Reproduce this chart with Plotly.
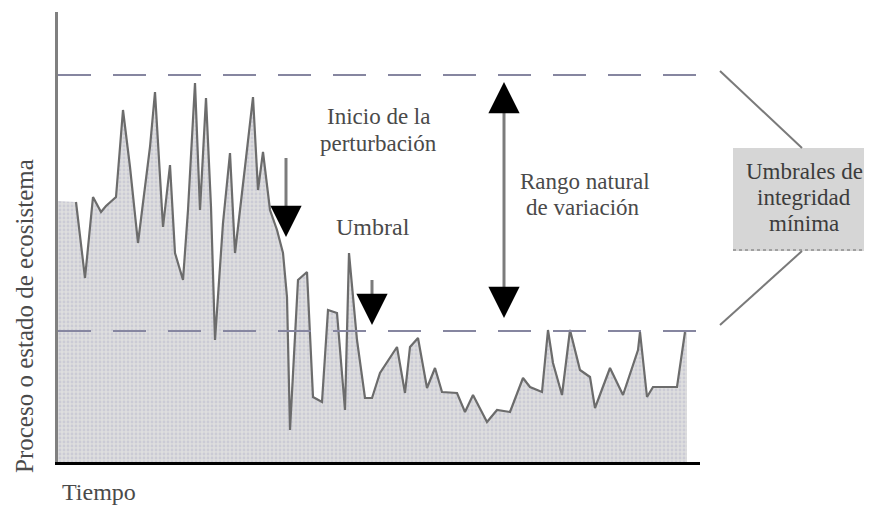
import plotly.graph_objects as go

# ---- data (time units and state units) ----
time = [18, 27, 35, 43, 48, 58, 65, 72, 80, 92, 97, 102, 105, 112, 117, 125, 130, 137, 142, 148,
        153, 157, 165, 172, 177, 187, 195, 200, 205, 212, 219, 225, 229, 232, 240, 249, 255, 264,
        270, 279, 287, 291, 299, 307, 314, 322, 339, 347, 352, 360, 369, 377, 384, 399, 407, 415,
        429, 439, 452, 465, 472, 484, 490, 495, 504, 512, 522, 532, 537, 552, 565, 580, 582, 589,
        595, 619, 627]
state = [260, 184, 265, 250, 256, 265, 352, 295, 219, 315, 370, 279, 235, 297, 209, 182, 252, 379,
         252, 364, 255, 122, 239, 309, 209, 295, 365, 272, 310, 252, 232, 209, 165, 32, 182, 190,
         65, 60, 152, 149, 52, 209, 122, 64, 64, 89, 115, 69, 115, 124, 74, 94, 70, 69, 50, 67, 40,
         52, 50, 84, 75, 70, 132, 99, 67, 132, 92, 85, 54, 94, 67, 112, 130, 65, 75, 75, 130]
fill_start_state = 261
fill_end_time = 629
upper_threshold = 387
lower_threshold = 131

x_max = 642
y_max = 450

FONT = "Liberation Serif"
TXT = "#4a4a4a"

# the page body adds an 8px offset; positions below are in window pixels
OFF = 8

fig = go.Figure()

# shaded area under the series
fig.add_trace(go.Scatter(
    x=[0] + time + [fill_end_time], y=[fill_start_state] + state + [state[-1]],
    mode="lines", line=dict(width=0, color="rgba(0,0,0,0)"),
    fill="tozeroy", fillcolor="#dcdce0",
    fillpattern=dict(shape=".", fgcolor="#b8b8cc", bgcolor="#dedede", size=4, solidity=0.4),
    hoverinfo="skip", showlegend=False))
# the series line
fig.add_trace(go.Scatter(
    x=time, y=state, mode="lines",
    line=dict(color="#6c6c6c", width=2.2),
    showlegend=False))

# threshold dashed lines
for yv in (upper_threshold, lower_threshold):
    fig.add_shape(type="line", xref="x", yref="y", x0=0, x1=640, y0=yv, y1=yv,
                  line=dict(color="#8686a0", width=2, dash="33px,22px"), layer="above")


def px(xp):
    return (xp - 58) / 642.0


def py(yp):
    return (462 - yp) / 450.0


# arrow shafts (gray)
shafts = [(286, 158, 212), (372, 280, 302), (504, 106, 292)]
for xs, y0, y1 in shafts:
    fig.add_shape(type="line", xref="paper", yref="paper", x0=px(xs), x1=px(xs),
                  y0=py(y0), y1=py(y1), line=dict(color="#7c7c7c", width=3), layer="above")

# arrow heads (black)
heads = [(286, 237, -27), (372, 325, -26), (504, 318, -27), (504, 82, 27)]
for xh, yh, ay in heads:
    fig.add_annotation(x=px(xh), y=py(yh), xref="paper", yref="paper", ax=0, ay=ay,
                       text="", showarrow=True, arrowhead=2, arrowsize=2.4, arrowwidth=2.6,
                       arrowcolor="#000000")

# texts
texts = [
    ("Inicio de la", 378, 117, 23), ("perturbación", 378, 143, 23),
    ("Umbral", 373, 227, 24),
    ("Rango natural", 585, 181, 23), ("de variación", 583, 207, 23),
    ("Tiempo", 99, 492, 24),
]
for t, xt, yt, fs in texts:
    fig.add_annotation(x=px(xt), y=py(yt), xref="paper", yref="paper", text=t,
                       showarrow=False, font=dict(family=FONT, size=fs, color=TXT),
                       xanchor="center", yanchor="middle")

fig.add_annotation(x=px(24), y=py(316), xref="paper", yref="paper",
                   text="Proceso o estado de ecosistema", textangle=-90, showarrow=False,
                   font=dict(family=FONT, size=25, color=TXT), xanchor="center", yanchor="middle")

# box "Umbrales de integridad mínima" and connectors
fig.add_shape(type="rect", xref="paper", yref="paper", x0=px(733), x1=px(872), y0=py(251), y1=py(148),
              line=dict(width=0), fillcolor="#d6d6d6", layer="above")
fig.add_shape(type="line", xref="paper", yref="paper", x0=px(733), x1=px(872), y0=py(250), y1=py(250),
              line=dict(color="#a0a0a0", width=2, dash="dot"))
fig.add_shape(type="line", xref="paper", yref="paper", x0=px(720), x1=px(802), y0=py(71), y1=py(148),
              line=dict(color="#7a7a7a", width=2))
fig.add_shape(type="line", xref="paper", yref="paper", x0=px(802), x1=px(720), y0=py(251), y1=py(325),
              line=dict(color="#7a7a7a", width=2))
for t, yt in (("Umbrales de", 171), ("integridad", 197), ("mínima", 223)):
    fig.add_annotation(x=px(804), y=py(yt), xref="paper", yref="paper", text=t, showarrow=False,
                       font=dict(family=FONT, size=23, color="#3c3c3c"),
                       xanchor="center", yanchor="middle")

fig.update_layout(
    width=872 - OFF, height=506 - OFF,
    margin=dict(l=58 - OFF, r=172, t=12 - OFF, b=44),
    paper_bgcolor="white", plot_bgcolor="white",
    showlegend=False,
    xaxis=dict(range=[0, x_max], showgrid=False, zeroline=False, showticklabels=False, ticks="",
               showline=True, linecolor="#000000", linewidth=3),
    yaxis=dict(range=[0, y_max], showgrid=False, zeroline=False, showticklabels=False, ticks="",
               showline=True, linecolor="#808080", linewidth=3),
)

fig.write_html("out.html")
